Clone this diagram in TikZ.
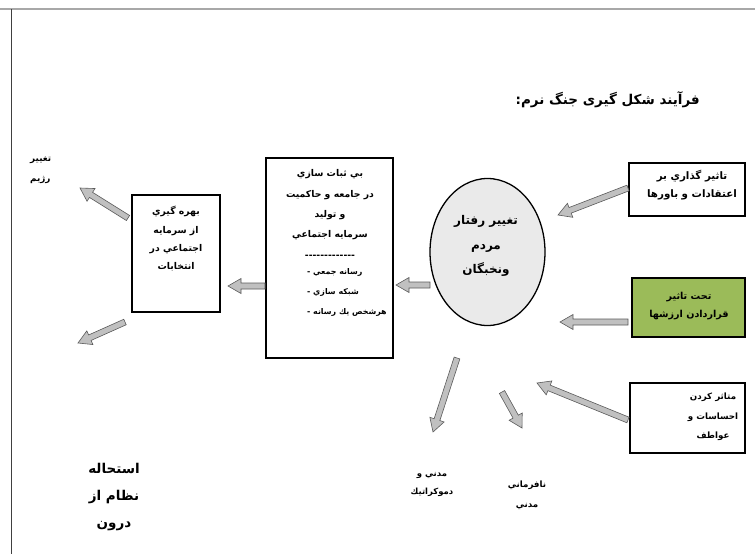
\documentclass[tikz,border=0pt]{standalone}
\usepackage{fontspec}
\usetikzlibrary{calc,shapes.geometric}
\TeXXeTstate=1
\newfontfamily\arfont[Script=Arabic]{DejaVu Sans}
\definecolor{arrowfill}{HTML}{C0C0C0}
\definecolor{arrowline}{HTML}{5A5A5A}
\definecolor{ellfill}{HTML}{EAEAEA}
\definecolor{greenfill}{HTML}{9BBB59}
\definecolor{rulegray}{HTML}{A8A8A8}
\newcommand\rtl[1]{\beginR #1\endR}
\newcommand\blockarrow[2]{%
  \coordinate (ba-c) at ($(#2)!13pt!(#1)$);
  \draw[blockarrowstyle] ($(#1)!3pt!90:(#2)$) -- ($(ba-c)!3pt!90:(#2)$) -- ($(ba-c)!7.5pt!90:(#2)$) -- (#2)
    -- ($(ba-c)!7.5pt!-90:(#2)$) -- ($(ba-c)!3pt!-90:(#2)$) -- ($(#1)!3pt!-90:(#2)$) -- cycle;}
\begin{document}
\begin{tikzpicture}[x=1pt,y=-1pt,
  blockarrowstyle/.style={fill=arrowfill,draw=arrowline,line width=0.6pt,line join=miter},
  boxstyle/.style={draw=black,line width=2.2pt,inner sep=0pt},
  txt/.style={font=\arfont\bfseries\fontsize{8.5}{18}\selectfont,align=center,inner sep=0pt},
]
\useasboundingbox (0,0) rectangle (755,554);
% page frame
\draw[rulegray,line width=1.8pt] (0,9) -- (755,9);
\draw[black!75,line width=0.7pt] (11.5,9) -- (11.5,554);
% title
\node[txt,font=\arfont\bfseries\fontsize{13.5}{16}\selectfont,anchor=east] (title) at (700,100) {\rtl{فرآیند شکل گیری جنگ نرم:}};
% boxes
\node[boxstyle,minimum width=88pt,minimum height=117pt] (b1) at (176,253.5) {};
\node[boxstyle,minimum width=127pt,minimum height=200pt] (b2) at (329.5,258) {};
\node[draw=black,line width=1.3pt,fill=ellfill,ellipse,minimum width=115pt,minimum height=147pt,inner sep=0pt] (ell) at (487.5,252) {};
\node[boxstyle,minimum width=116pt,minimum height=53pt] (btr) at (687,189.5) {};
\node[boxstyle,fill=greenfill,minimum width=113pt,minimum height=59pt] (bg) at (688.5,307.5) {};
\node[boxstyle,minimum width=115pt,minimum height=70pt] (bbr) at (687.5,418) {};
% texts
\node[txt,anchor=west,align=left,font=\arfont\bfseries\fontsize{8.8}{20}\selectfont] (t-regime) at (30,170) {\rtl{تغيير}\\\rtl{رژيم}};
\node[txt,font=\arfont\bfseries\fontsize{9.3}{18.3}\selectfont] (t-b1) at (176,239) {\rtl{بهره گيري}\\\rtl{از سرمايه}\\\rtl{اجتماعي در}\\\rtl{انتخابات}};
\node[txt,font=\arfont\bfseries\fontsize{9.3}{20.3}\selectfont] (t-b2a) at (330,214) {\rtl{بي ثبات سازي}\\\rtl{در جامعه و حاكميت}\\\rtl{و توليد}\\\rtl{سرمايه اجتماعي}\\-\kern0pt-\kern0pt-\kern0pt-\kern0pt-\kern0pt-\kern0pt-\kern0pt-\kern0pt-\kern0pt-\kern0pt-\kern0pt-\kern0pt-};
\node[txt,anchor=west,align=left,font=\arfont\bfseries\fontsize{7.9}{20}\selectfont] (t-b2b) at (307,292) {\rtl{رسانه جمعي -}\\\rtl{شبكه سازي -}\\\rtl{هرشخص يك رسانه -}};
\node[txt,font=\arfont\bfseries\fontsize{12}{24.5}\selectfont] (t-ell) at (486,246) {\rtl{تغيير رفتار}\\\rtl{مردم}\\\rtl{ونخبگان}};
\node[txt,font=\arfont\bfseries\fontsize{10.3}{18}\selectfont] (t-btr) at (692,185) {\rtl{تاثير گذاري بر}\\\rtl{اعتقادات و باورها}};
\node[txt,font=\arfont\bfseries\fontsize{9.6}{18}\selectfont] (t-bg) at (689,306) {\rtl{تحت تاثير}\\\rtl{قراردادن ارزشها}};
\node[txt,font=\arfont\bfseries\fontsize{8.7}{19.5}\selectfont] (t-bbr) at (713,417) {\rtl{متاثر كردن}\\\rtl{احساسات و}\\\rtl{عواطف}};
\node[txt] (t-dem) at (432,484) {\rtl{مدني و}\\\rtl{دموكراتيك}};
\node[txt,font=\arfont\bfseries\fontsize{8.7}{20}\selectfont] (t-naf) at (527,495) {\rtl{نافرماني}\\\rtl{مدني}};
\node[txt,font=\arfont\bfseries\fontsize{13.5}{27}\selectfont] (t-est) at (114,497) {\rtl{استحاله}\\\rtl{نظام از}\\\rtl{درون}};
% arrow end points
\coordinate (a1s) at (628,188); \coordinate (a1e) at (558,215);
\coordinate (a2s) at (628,322); \coordinate (a2e) at (560,322);
\coordinate (a3s) at (628,420); \coordinate (a3e) at (537,383);
\coordinate (a4s) at (457,358); \coordinate (a4e) at (433,432);
\coordinate (a5s) at (502,392); \coordinate (a5e) at (522,428);
\coordinate (a6s) at (430,285); \coordinate (a6e) at (396,285);
\coordinate (a7s) at (265,286); \coordinate (a7e) at (228,286);
\coordinate (a8s) at (128,218); \coordinate (a8e) at (80,188);
\coordinate (a9s) at (125,322); \coordinate (a9e) at (78,343);
\blockarrow{a1s}{a1e}
\blockarrow{a2s}{a2e}
\blockarrow{a3s}{a3e}
\blockarrow{a4s}{a4e}
\blockarrow{a5s}{a5e}
\blockarrow{a6s}{a6e}
\blockarrow{a7s}{a7e}
\blockarrow{a8s}{a8e}
\blockarrow{a9s}{a9e}
\end{tikzpicture}
\end{document}
